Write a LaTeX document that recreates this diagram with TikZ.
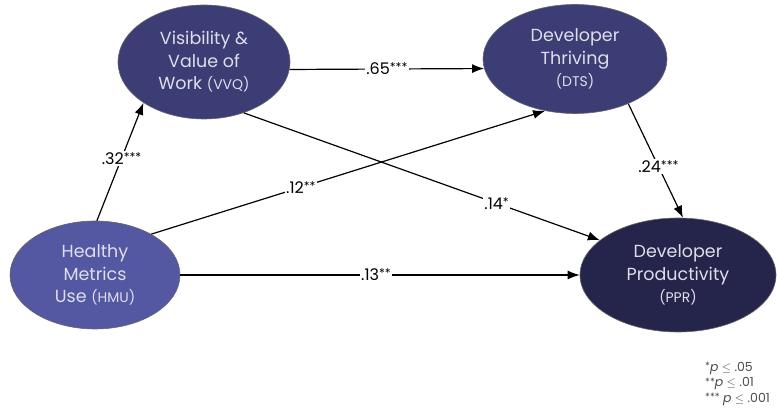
\documentclass[tikz,border=0pt]{standalone}
\usepackage{fontspec}
\setmainfont{Poppins}
\usepackage{tikz}
\usetikzlibrary{shapes.geometric,arrows.meta}
\definecolor{hmucol}{HTML}{5457A2}
\definecolor{midcol}{HTML}{3D3D76}
\definecolor{pprcol}{HTML}{25244B}
\definecolor{txtcol}{HTML}{DEDEEA}
\newcommand{\sig}[1]{\raisebox{3pt}{\fontsize{12}{12}\selectfont #1}}
\newcommand{\keysig}[1]{\raisebox{1.5pt}{\fontsize{10}{10}\selectfont #1}}

\begin{document}
\begin{tikzpicture}[x=1pt, y=-1pt, >={Latex[length=12pt,width=9pt]},
    construct/.style={ellipse, draw=black!60, line width=0.6pt, text=txtcol, align=center,
      inner sep=0pt, font=\fontsize{17.5}{22.5}\selectfont},
    coef/.style={fill=white, inner sep=1.5pt, font=\fontsize{16}{18}\selectfont}]
  \useasboundingbox (0,0) rectangle (777,411);
      \node[construct, fill=midcol, minimum width=172, minimum height=114] (VVQ) at (204,62)
        {Visibility \&\\Value of\\Work {\fontsize{14}{22.5}\selectfont(VVQ)}};
      \node[construct, fill=midcol, minimum width=184, minimum height=109] (DTS) at (575,59)
        {Developer\\Thriving\\{\fontsize{14}{21}\selectfont(DTS)}};
      \node[construct, fill=hmucol, minimum width=170, minimum height=108] (HMU) at (95,275)
        {Healthy\\Metrics\\Use {\fontsize{14}{22.5}\selectfont(HMU)}};
      \node[construct, fill=pprcol, minimum width=196, minimum height=114] (PPR) at (678,275)
        {Developer\\Productivity\\{\fontsize{14}{21}\selectfont(PPR)}};
    \draw [->, line width=1.2pt] (HMU.88) to node [coef, pos=0.53]{.32\sig{***}} (VVQ.214);
    \draw [->, line width=1.2pt] (VVQ.-5) to node [coef, pos=0.5]{.65\sig{***}} (DTS.186);
    \draw [->, line width=1.2pt] (HMU.36) to node [coef, pos=0.38]{.12\sig{**}} (DTS.240);
    \draw [->, line width=1.2pt] (VVQ.308) to node [coef, pos=0.71]{.14\sig{*}} (PPR.156);
    \draw [->, line width=1.2pt] (DTS.-40) to node [coef, pos=0.55]{.24\sig{***}} (PPR.85);
    \draw [->, line width=1.2pt] (HMU.east) to node [coef, pos=0.49]{.13\sig{**}} (PPR.west);
      \node (key) [anchor=north west, align=left, inner sep=0pt, text=black!70,
        font=\fontsize{12.5}{15.5}\selectfont] at (705,362)
        {\keysig{*}\textit{p} $\leq$ .05\\\keysig{**}\textit{p} $\leq$ .01\\\keysig{***} \textit{p} $\leq$ .001};
      \end{tikzpicture}
\end{document}
